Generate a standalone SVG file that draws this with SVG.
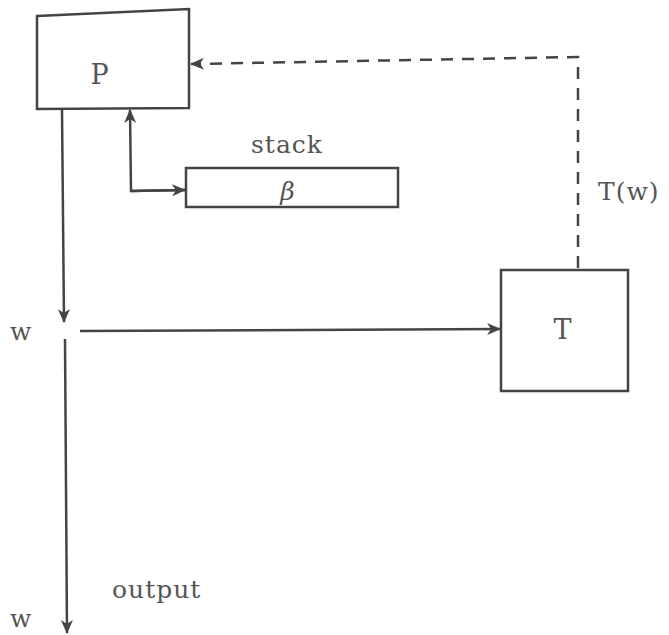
<svg xmlns="http://www.w3.org/2000/svg" width="669" height="635" viewBox="0 0 669 635">
<style>
.box{fill:none;stroke:#444;stroke-width:2.5}
.ln{fill:none;stroke:#444;stroke-width:2.5}
.dash{fill:none;stroke:#444;stroke-width:2.5;stroke-dasharray:12,9}
</style>
<defs>
<marker id="ah" viewBox="0 0 14 12" refX="13" refY="6" markerWidth="14" markerHeight="12" markerUnits="userSpaceOnUse" orient="auto">
<path d="M0,0 L14,6 L0,12 L4,6 Z" fill="#444"/>
</marker>
</defs>
<rect width="669" height="635" fill="#fff"/>
<g font-family="DejaVu Serif, Liberation Serif, serif" font-size="25" fill="#555" letter-spacing="1">
<g id="nodeP">
<path class="box" d="M37,16 L189,9 L189,108 L37,109 Z"/>
<text x="100" y="84" text-anchor="middle" font-size="27">P</text>
</g>
<g id="nodeStack">
<rect class="box" x="186" y="168" width="212" height="39"/>
<text x="287" y="153" text-anchor="middle">stack</text>
<text x="288" y="200" text-anchor="middle" font-style="italic">β</text>
</g>
<g id="nodeT">
<rect class="box" x="501" y="270" width="127" height="121"/>
<text x="563" y="339" text-anchor="middle" font-size="27">T</text>
</g>
<g id="labels">
<text x="10" y="340">w</text>
<text x="10" y="627">w</text>
<text x="112" y="598">output</text>
<text x="598" y="200">T(w)</text>
</g>
</g>
<g id="connectors">
<path class="ln" d="M62,110 L64,322" marker-end="url(#ah)"/>
<path class="ln" d="M65,339 L67,633" marker-end="url(#ah)"/>
<path class="ln" d="M80,331 L500,329" marker-end="url(#ah)"/>
<path class="ln" d="M185,190 L131,191 L130,110" marker-end="url(#ah)"/>
<path class="ln" d="M131,191 L185,190" marker-end="url(#ah)"/>
<path class="dash" d="M578,268 L578,57 L191,64" marker-end="url(#ah)"/>
</g>
</svg>
